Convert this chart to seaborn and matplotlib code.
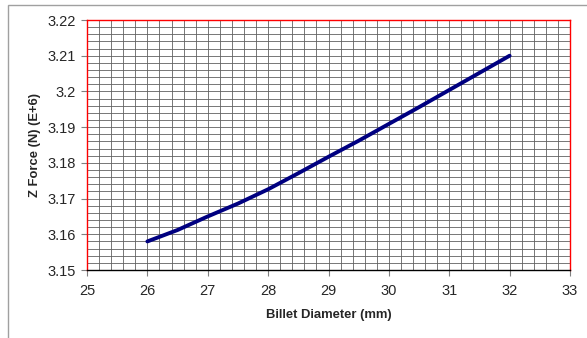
import matplotlib
matplotlib.use("Agg")
import matplotlib.pyplot as plt
from matplotlib.ticker import MultipleLocator
from matplotlib.patches import Rectangle
import seaborn as sns
import pandas as pd

billet_diameter = [26, 26.5, 27, 27.5, 28, 28.5, 29, 29.5, 30, 30.5, 31, 31.5, 32]
z_force = [3.158, 3.1612, 3.1650, 3.1686, 3.1726, 3.1771, 3.1817, 3.1862,
           3.1909, 3.1956, 3.2004, 3.2052, 3.2100]
x_ticks = [25, 26, 27, 28, 29, 30, 31, 32, 33]
y_ticks = [3.15, 3.16, 3.17, 3.18, 3.19, 3.20, 3.21, 3.22]
y_tick_labels = ["3.15", "3.16", "3.17", "3.18", "3.19", "3.2", "3.21", "3.22"]

df = pd.DataFrame({"d": billet_diameter, "f": z_force})

sns.set_style("white")
plt.rcParams["font.family"] = ["Liberation Sans", "DejaVu Sans"]

fig = plt.figure(figsize=(5.87, 3.38), dpi=100)
ax = fig.add_axes([87/587, 1-270/338, (570-87)/587, 250/338])

sns.lineplot(data=df, x="d", y="f", ax=ax, color="#000080", linewidth=2.8,
             solid_capstyle="round", zorder=5)

ax.set_xlim(25, 33)
ax.set_ylim(3.15, 3.22)
ax.set_xticks(x_ticks)
ax.set_xticklabels([str(t) for t in x_ticks])
ax.set_yticks(y_ticks)
ax.set_yticklabels(y_tick_labels)
ax.xaxis.set_minor_locator(MultipleLocator(0.2))
ax.yaxis.set_minor_locator(MultipleLocator(0.002))
ax.grid(True, which="both", color="#606060", linewidth=0.6)
ax.tick_params(which="minor", length=0)
ax.tick_params(which="major", length=4, width=0.8, color="#808080",
               labelsize=10.5, direction="out", bottom=True, left=True)
ax.tick_params(axis="x", pad=6)
ax.tick_params(axis="y", pad=4)
ax.set_axisbelow(True)

for s in ["top", "right", "left"]:
    ax.spines[s].set_color("#ff0000")
    ax.spines[s].set_linewidth(1.0)
ax.spines["bottom"].set_color("#000000")
ax.spines["bottom"].set_linewidth(1.0)

ax.set_xlabel("Billet Diameter (mm)", fontsize=9.4, fontweight="bold", labelpad=8)
ax.set_ylabel("Z Force (N) (E+6)", fontsize=9.4, fontweight="bold", labelpad=5)

fig.patches.append(Rectangle((8/587, -0.2), 1.2, 1.2 - 5/338, transform=fig.transFigure,
                             fill=False, edgecolor="#a0a0a0", linewidth=1.0))

fig.savefig("out.png", dpi=100)
